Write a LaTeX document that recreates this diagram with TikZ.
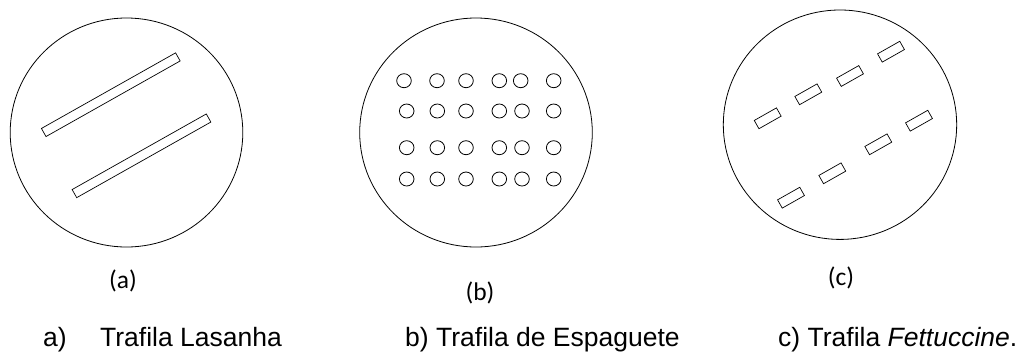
\documentclass[tikz,border=0pt]{standalone}
\usepackage{fontspec}
\setmainfont{Liberation Sans}
\newfontfamily\calibrifont{Carlito}
\begin{document}
\begin{tikzpicture}[x=1pt,y=1pt,yscale=-1,xscale=1,
    die/.style={draw=black,line width=0.8pt},
    slot/.style={draw=black,line width=0.7pt,inner sep=0pt,minimum height=9.3pt},
    hole/.style={draw=black,line width=0.8pt},
    sublabel/.style={inner sep=0pt,font=\calibrifont\fontsize{25.5}{28}\selectfont},
    caption/.style={anchor=base west,inner sep=0pt,font=\fontsize{26.5}{30}\selectfont}]
  \useasboundingbox (0,0) rectangle (1029,360);

  %Shape: Circle (a) lasanha
  \draw [die] (126.5,132.5) ellipse [x radius=116.3,y radius=114.5];
  %Shape: Rectangle slots
  \node [slot,minimum width=154pt,rotate=29.4] (slotA1) at (110.8,94.7) {};
  \node [slot,minimum width=154pt,rotate=29.4] (slotA2) at (141.5,155.8) {};

  %Shape: Circle (b) espaguete
  \draw [die] (476,132.5) ellipse [x radius=116.3,y radius=114.5];
  %Shape: Holes
  \foreach \hx [count=\i] in {404,437,466,499.3,520.7,553.7}
    \draw [hole] (\hx,80.7) ellipse [x radius=7.3,y radius=7];
  \foreach \hy in {111,147.7,179}
    \foreach \hx in {406.7,437.3,466,499.3,522,553.7}
      \draw [hole] (\hx,\hy) ellipse [x radius=7.3,y radius=7];

  %Shape: Circle (c) fettuccine
  \draw [die] (840,124.7) ellipse [x radius=116.7,y radius=114.7];
  %Shape: Rectangle slots
  \foreach \sx/\sy [count=\k] in {767.7/118.3,808.3/94.3,850/76,891/51.7,791/197.7,832.3/173.3,878.3/144.3,919/120.7}
    \node [slot,minimum width=25.5pt,minimum height=9.5pt,rotate=29.5] (slotC\k) at (\sx,\sy) {};

  % Text Node
  \node [sublabel] (subA) at (123,281) {(a)};
  % Text Node
  \node [sublabel] (subB) at (480,293) {(b)};
  % Text Node
  \node [sublabel] (subC) at (841,278) {(c)};

  % Text Node
  \node [caption] (capA1) at (43,346) {a)};
  \node [caption] (capA2) at (100,346) {Trafila Lasanha};
  % Text Node
  \node [caption] (capB) at (405,346) {b) Trafila de Espaguete};
  % Text Node
  \node [caption] (capC) at (778,346) {c) Trafila \textit{Fettuccine}.};
\end{tikzpicture}
\end{document}
